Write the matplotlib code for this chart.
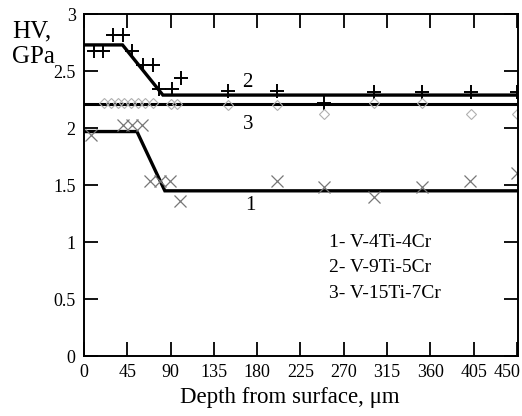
import matplotlib
matplotlib.use("Agg")
import matplotlib.pyplot as plt
from matplotlib.transforms import ScaledTranslation

# Measured microhardness points (depth in um, HV in GPa)
depth_1 = [7, 40, 50, 60, 69, 79, 89, 100, 201, 250, 301, 351, 401, 450]
hv_1 = [1.94, 2.03, 2.03, 2.03, 1.54, 1.54, 1.54, 1.36, 1.54, 1.48, 1.40, 1.48, 1.54, 1.61]

depth_2 = [10, 20, 30, 41, 50, 61, 72, 78, 91, 101, 150, 201, 250, 301, 351, 402, 450]
hv_2 = [2.68, 2.68, 2.82, 2.82, 2.68, 2.55, 2.55, 2.34, 2.34, 2.44, 2.33, 2.33, 2.22, 2.32, 2.32, 2.32, 2.32]

depth_3 = [21, 28, 35, 42, 49, 56, 63, 72, 90, 97, 150, 201, 250, 301, 351, 402, 450]
hv_3 = [2.22, 2.22, 2.22, 2.22, 2.22, 2.22, 2.22, 2.22, 2.21, 2.21, 2.20, 2.20, 2.12, 2.22, 2.22, 2.12, 2.12]

# Fitted hardness profiles
fit_x_1 = [0, 55, 84, 450]
fit_y_1 = [1.97, 1.97, 1.45, 1.45]
fit_x_2 = [0, 40, 82, 450]
fit_y_2 = [2.73, 2.73, 2.29, 2.29]
fit_x_3 = [0, 450]
fit_y_3 = [2.21, 2.21]

curve_labels = ["1", "2", "3"]
legend_lines = ["1- V-4Ti-4Cr", "2- V-9Ti-5Cr", "3- V-15Ti-7Cr"]
x_ticks = [0, 45, 90, 135, 180, 225, 270, 315, 360, 405, 450]
y_ticks = [0, 0.5, 1, 1.5, 2, 2.5, 3]
y_tick_labels = ["0", "0.5", "1", "1.5", "2", "2.5", "3"]

serif = ["Liberation Serif", "DejaVu Serif"]

fig = plt.figure(figsize=(5.22, 4.16), dpi=100)
ax = fig.add_axes([0.161, 0.144, 0.831, 0.822])

ax.plot(fit_x_1, fit_y_1, color="black", lw=2.4, solid_joinstyle="miter")
ax.plot(fit_x_2, fit_y_2, color="black", lw=2.4, solid_joinstyle="miter")
ax.plot(fit_x_3, fit_y_3, color="black", lw=2.2)

ax.plot(depth_1, hv_1, ls="none", marker="x", ms=8, mew=0.9, color="#777777")
ax.plot(depth_2, hv_2, ls="none", marker="+", ms=10, mew=1.4, color="black")
ax.plot(depth_3, hv_3, ls="none", marker="D", ms=5.5, mew=0.8,
        mfc="none", mec="#b0b0b0")

ax.set_xlim(0, 451)
ax.set_ylim(0, 3)
ax.set_xticks(x_ticks)
ax.set_xticklabels([str(v) for v in x_ticks])
ax.set_yticks(y_ticks)
ax.set_yticklabels(y_tick_labels)
ax.tick_params(direction="in", length=10, width=1.3, top=True, right=True,
               labelsize=13, pad=6)
for lab in ax.get_xticklabels() + ax.get_yticklabels():
    lab.set_family(serif)
# keep the last depth label inside the figure
last = ax.get_xticklabels()[-1]
last.set_transform(last.get_transform() + ScaledTranslation(-0.1, 0, fig.dpi_scale_trans))
for sp in ax.spines.values():
    sp.set_linewidth(1.4)

# Curve numbers
ax.text(170, 2.40, curve_labels[1], fontsize=15, family=serif, ha="center", va="center")
ax.text(171, 2.03, curve_labels[2], fontsize=15, family=serif, ha="center", va="center")
ax.text(173, 1.32, curve_labels[0], fontsize=15, family=serif, ha="center", va="center")

# Alloy key
for i, s in enumerate(legend_lines):
    ax.text(255, 1.0 - i * 0.225, s, fontsize=14, family=serif, ha="left", va="center")

# Axis titles
fig.text(0.023, 0.911, "HV,", fontsize=18, family=serif, ha="left", va="baseline")
fig.text(0.023, 0.849, "GPa", fontsize=18, family=serif, ha="left", va="baseline")
fig.text(0.556, 0.02, "Depth from surface, \u03bcm", fontsize=16.5, family=serif,
         ha="center", va="bottom")

fig.savefig("out.png", dpi=100)
